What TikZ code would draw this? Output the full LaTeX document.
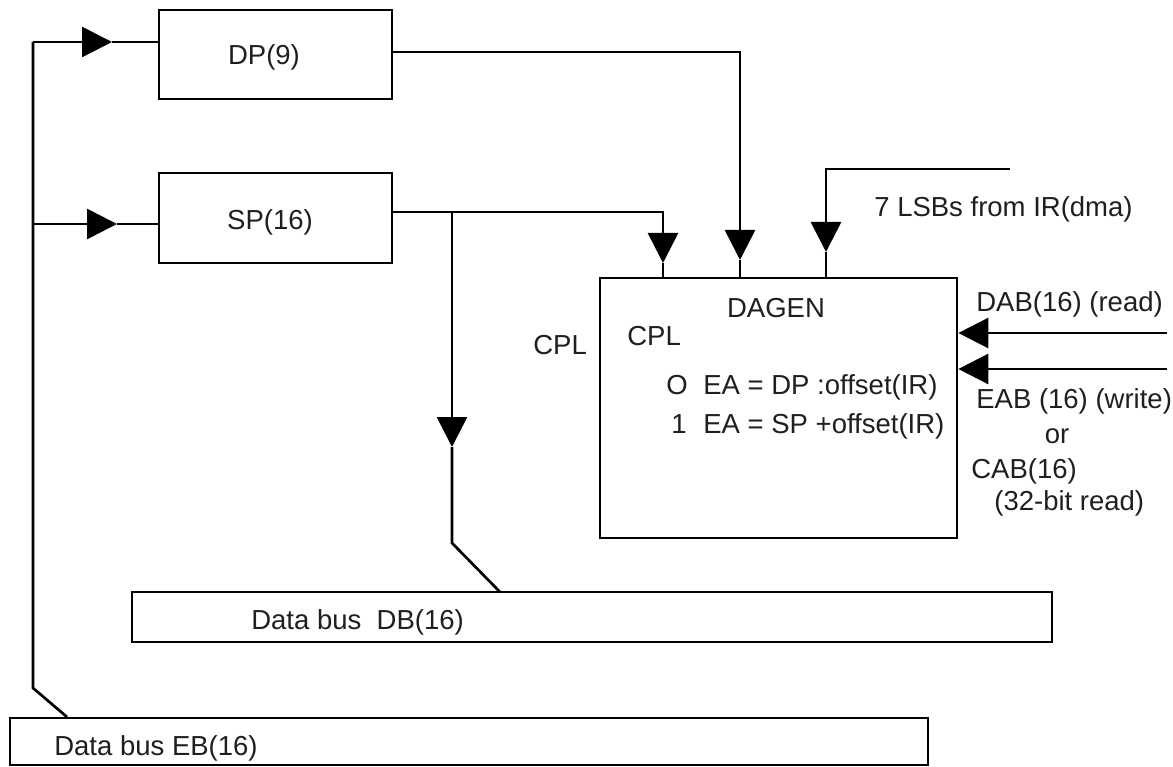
\documentclass[tikz,border=0pt]{standalone}
\usepackage{fontspec}
\setmainfont{Liberation Sans}
\usetikzlibrary{arrows.meta,calc}
\begin{document}
\begin{tikzpicture}[x=1pt,y=-1pt,
  line width=2.7pt,
  box/.style={draw,rectangle,inner sep=0pt,line width=2.7pt},
  lbl/.style={inner sep=0pt,anchor=base west,font=\fontsize{27.5}{30}\selectfont,text=black!88},
  lblc/.style={inner sep=0pt,anchor=base,font=\fontsize{27.5}{30}\selectfont,text=black!88},
  tri/.style={-{Triangle[length=30pt,width=30pt]}},
  wire/.style={line width=2.7pt,line join=miter}]
\useasboundingbox (0,0) rectangle (1173,767);
\fill[white] (0,0) rectangle (1173,767);
\clip (0,0) rectangle (1173,767);

% boxes
\node[box,minimum width=233pt,minimum height=89pt] (dp) at (275.5,54.5) {};
\node[box,minimum width=233pt,minimum height=90pt] (sp) at (275.5,218) {};
\node[box,minimum width=357pt,minimum height=260pt] (dagen) at (778.5,408) {};
\node[box,minimum width=920pt,minimum height=50pt] (db) at (592,617) {};
\node[box,minimum width=918pt,minimum height=47pt] (eb) at (469,741.5) {};

% texts
\node[lblc] (dpt) at (264,65) {DP(9)};
\node[lblc] (spt) at (270,230) {SP(16)};
\node[lblc] (dagt) at (776,318) {DAGEN};
\node[lbl] (cpli) at (626,345) {CPL};
\node[lbl] (cplo) at (532,355) {CPL};
\node[lbl] (l0) at (665,395) {O};
\node[lbl] (l0e) at (702,395) {EA = DP :offset(IR)};
\node[lbl] (l1) at (670,433) {1};
\node[lbl] (l1e) at (702,433) {EA = SP +offset(IR)};
\node[lbl] (lsb) at (873,217) {7 LSBs from IR(dma)};
\node[lbl] (dab) at (975,312) {DAB(16) (read)};
\node[lbl] (eab) at (975,408) {EAB (16) (write)};
\node[lblc] (or) at (1057,443) {or};
\node[lbl] (cab) at (970,478) {CAB(16)};
\node[lbl] (cabr) at (993,510) {(32-bit read)};
\node[lbl] (dbt) at (250,629) {Data bus\ \ DB(16)};
\node[lbl] (ebt) at (53,755) {Data bus EB(16)};

% coordinates
\coordinate (bustop) at (33,42);
\coordinate (busbend) at (33,688);
\coordinate (ebjoin) at (67,717);
\coordinate (dptip) at (112,42);
\coordinate (sptip) at (117,224);
\coordinate (spin) at (33,224);
\coordinate (dpo) at (dp.east |- 0,52);
\coordinate (dpc) at (740,52);
\coordinate (dpdtip) at (740,260);
\coordinate (spo) at (sp.east |- 0,212);
\coordinate (brch) at (452,212);
\coordinate (spc) at (663,212);
\coordinate (spdtip) at (663,263);
\coordinate (brtip) at (452,447);
\coordinate (brbend) at (452,543);
\coordinate (dbjoin) at (500,592);
\coordinate (lsbs) at (1010,169);
\coordinate (lsbc) at (826,169);
\coordinate (lsbtip) at (826,252);
\coordinate (dabs) at (1167,333);
\coordinate (eabs) at (1167,369);

% left bus
\draw[wire] (bustop) -- (busbend) -- (ebjoin);
\draw[tri] (bustop) -- (dptip);
\draw[wire] (dptip) -- (dp.west |- dptip);
\draw[tri] (spin) -- (sptip);
\draw[wire] (sptip) -- (sp.west |- sptip);

% DP output
\draw[tri] (dpo) -- (dpc) -- (dpdtip);
\draw[wire] (dpdtip) -- (dagen.north -| dpdtip);

% SP output
\draw[tri] (spo) -- (spc) -- (spdtip);
\draw[wire] (spdtip) -- (dagen.north -| spdtip);

% branch to DB
\draw[tri] (brch) -- (brtip);
\draw[wire] (brtip) -- (brbend) -- (dbjoin);

% 7 LSBs
\draw[tri] (lsbs) -- (lsbc) -- (lsbtip);
\draw[wire] (lsbtip) -- (dagen.north -| lsbtip);

% DAB / EAB
\draw[tri] (dabs) -- (dagen.east |- dabs);
\draw[tri] (eabs) -- (dagen.east |- eabs);
\end{tikzpicture}
\end{document}
